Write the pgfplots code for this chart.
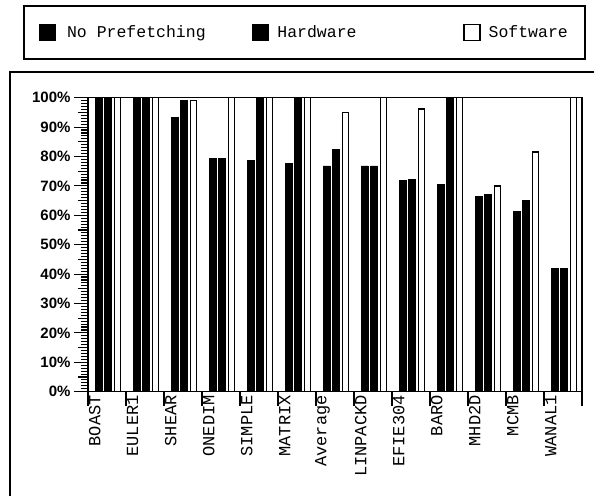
\documentclass[border=0pt]{standalone}
\usepackage{fontspec}
\setmainfont{Liberation Mono}
\newfontfamily\ticksans{Liberation Sans}
\usepackage{pgfplots}
\pgfplotsset{compat=1.18}

\begin{document}
\begin{tikzpicture}
\begin{axis}[
    at={(88bp,104.3bp)}, anchor=south west,
    scale only axis, width=494bp, height=294bp,
    xmin=-0.53, xmax=12.47, ymin=0, ymax=100,
    ybar, bar width=7bp,
    legend image code/.code={\draw[#1, line width=1.3bp] (0bp,-8bp) rectangle (16bp,8bp);},
    axis line style={line width=1.6bp},
    tick align=outside, tick pos=left,
    major tick length=14bp, minor tick length=7bp,
    tick style={line width=1.1bp, black},
    xtick={-0.53,0.47,1.47,2.47,3.47,4.47,5.47,6.47,7.47,8.47,9.47,10.47,11.47,12.47},
    xticklabels={,,,,,,,,,,,,,},
    extra x ticks={-0.355,0.645,1.645,2.645,3.645,4.645,5.645,6.645,7.645,8.645,9.645,10.645,11.645},
    extra x tick labels={BOAST,EULER1,SHEAR,ONEDIM,SIMPLE,MATRIX,Average,LINPACKD,EFIE304,BARO,MHD2D,MCMB,WANAL1},
    extra x tick style={major tick length=0pt,
        tick label style={rotate=90, anchor=east, font=\fontsize{17bp}{17bp}\selectfont}},
    ytick={0,10,...,100},
    yticklabels={0\%,10\%,20\%,30\%,40\%,50\%,60\%,70\%,80\%,90\%,100\%},
    yticklabel style={font=\ticksans\bfseries\fontsize{15bp}{15bp}\selectfont},
    minor y tick num=9,
    extra y ticks={5,15,25,35,45,55,65,75,85,95},
    extra y tick labels={,,,,,,,,,},
    extra y tick style={major tick length=10bp},
    legend columns=3,
    legend style={at={(-0.1316,1.3153)}, anchor=north west,
        draw=black, line width=1.6bp, inner xsep=15bp, inner ysep=18bp,
        font=\fontsize{16.5bp}{17bp}\selectfont},
]

% No Prefetching
\addplot[fill=black, draw=black, line width=0.8bp, bar shift=-9.5bp] coordinates {
    (0,100) (1,100) (2,93.2) (3,79.3) (4,78.7) (5,77.7) (6,76.8)
    (7,76.8) (8,72.0) (9,70.5) (10,66.3) (11,61.2) (12,42.0)
};
\addlegendentry{\makebox[192bp][l]{\hspace{9bp}No Prefetching}}

% Hardware
\addplot[fill=black, draw=black, line width=0.8bp, bar shift=0bp] coordinates {
    (0,100) (1,100) (2,99.0) (3,79.3) (4,100) (5,100) (6,82.4)
    (7,76.8) (8,72.3) (9,100) (10,67.1) (11,65.2) (12,42.0)
};
\addlegendentry{\makebox[190bp][l]{\hspace{6bp}Hardware}}

% Software
\addplot[fill=white, draw=black, line width=1.6bp, bar shift=9.5bp, bar width=6bp] coordinates {
    (0,100) (1,100) (2,99.0) (3,100) (4,100) (5,100) (6,94.9)
    (7,100) (8,96.2) (9,100) (10,70.0) (11,81.5) (12,100)
};
\addlegendentry{\hspace{6bp}Software}
\end{axis}

\draw[line width=1.8bp] (10bp,-5bp) -- (10bp,424bp) -- (600bp,424bp);
\pgfresetboundingbox
\path[use as bounding box] (0,0) rectangle (594bp,496bp);
\end{tikzpicture}
\end{document}
